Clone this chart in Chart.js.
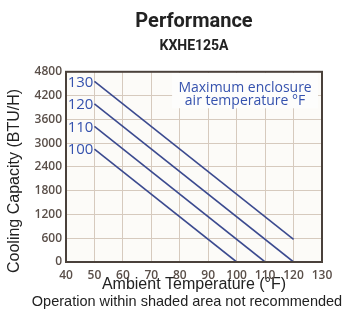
<!DOCTYPE html>
<html>
<head>
<meta charset="utf-8">
<script src="https://cdn.jsdelivr.net/npm/chart.js@4/dist/chart.umd.min.js"></script>
<style>
  html, body { margin: 0; padding: 0; background: #ffffff; }
  #wrap { width: 346px; height: 324px; }
</style>
</head>
<body>
<div id="wrap"><canvas id="perf-chart" width="346" height="324"></canvas></div>
<script>
// Cooling capacity vs ambient temperature, one line per max enclosure temp
const enclosureTemps = ["100", "110", "120", "130"];
const ambientStart = [50, 50, 50, 50];
const ambientEnd = [100, 110, 120, 120];
const capacityStart = [2850, 3420, 3990, 4560];
const capacityEnd = [0, 0, 0, 570];

const xTicks = [40, 50, 60, 70, 80, 90, 100, 110, 120, 130];
const yTicks = [0, 600, 1200, 1800, 2400, 3000, 3600, 4200, 4800];

const noteLines = ["Maximum enclosure", "air temperature °F"];
// note box corners in axis units
const noteBox = { x0: 77.3, x1: 128.6, y0: 3880, y1: 4770 };

const colors = {
  line: "#3b4a8f",
  label: "#3552ae",
  grid: "#d6cabe",
  border: "#4a413b",
  tick: "#5a4f49",
  text: "#222222",
};

const tickFont = { family: "'Open Sans', 'DejaVu Sans', sans-serif", size: 12, weight: "600" };
const titleFamily = "Roboto, 'Liberation Sans', sans-serif";
const axisFont = "16px 'Liberation Sans', Arial, sans-serif";

const datasets = enclosureTemps.map((t, i) => ({
  label: t,
  data: [
    { x: ambientStart[i], y: capacityStart[i] },
    { x: ambientEnd[i], y: capacityEnd[i] },
  ],
  borderColor: colors.line,
  borderWidth: 1.6,
  pointRadius: 0,
  fill: false,
  tension: 0,
}));

// Plot background, note box, series labels, frame and captions
const decorations = {
  id: "decorations",
  beforeDraw(chart) {
    const { ctx, chartArea } = chart;
    ctx.save();
    ctx.fillStyle = "#fcfbf8";
    ctx.fillRect(chartArea.left, chartArea.top, chartArea.right - chartArea.left, chartArea.bottom - chartArea.top);
    ctx.restore();
  },
  beforeDatasetsDraw(chart) {
    const { ctx, scales } = chart;
    const x = scales.x, y = scales.y;
    const left = x.getPixelForValue(noteBox.x0);
    const right = x.getPixelForValue(noteBox.x1);
    const top = y.getPixelForValue(noteBox.y1);
    const bottom = y.getPixelForValue(noteBox.y0);
    ctx.save();
    ctx.fillStyle = "#fdfdfc";
    ctx.fillRect(left, top, right - left, bottom - top);
    ctx.fillStyle = colors.label;
    ctx.font = "14px 'Open Sans', sans-serif";
    ctx.textAlign = "center";
    ctx.textBaseline = "alphabetic";
    const cx = (left + right) / 2;
    ctx.fillText(noteLines[0], cx, top + 19);
    ctx.fillText(noteLines[1], cx, top + 32);
    ctx.restore();
  },
  afterDatasetsDraw(chart) {
    const { ctx } = chart;
    ctx.save();
    ctx.fillStyle = colors.label;
    ctx.font = "15px 'Open Sans', sans-serif";
    ctx.textAlign = "right";
    ctx.textBaseline = "middle";
    chart.data.datasets.forEach((ds, i) => {
      const pt = chart.getDatasetMeta(i).data[0];
      ctx.fillText(ds.label, pt.x - 1, pt.y + 1);
    });
    ctx.restore();
  },
  afterDraw(chart) {
    const { ctx, chartArea } = chart;
    ctx.save();
    ctx.strokeStyle = colors.border;
    ctx.lineWidth = 2;
    ctx.strokeRect(chartArea.left, chartArea.top, chartArea.right - chartArea.left, chartArea.bottom - chartArea.top);
    ctx.fillStyle = colors.text;
    ctx.textBaseline = "middle";
    // y axis caption starts just below the frame's bottom edge
    ctx.font = axisFont;
    ctx.save();
    ctx.translate(15, chartArea.bottom + 11);
    ctx.rotate(-Math.PI / 2);
    ctx.textAlign = "left";
    ctx.fillText("Cooling Capacity (BTU/H)", 0, 0);
    ctx.restore();
    ctx.textAlign = "center";
    ctx.font = "14.5px 'Liberation Sans', Arial, sans-serif";
    ctx.fillText("Operation within shaded area not recommended", 187, 302);
    ctx.restore();
  },
};

const ctx = document.getElementById("perf-chart").getContext("2d");
new Chart(ctx, {
  type: "line",
  data: { datasets: datasets },
  options: {
    responsive: false,
    animation: false,
    layout: { padding: { left: 0, right: 24, top: 0, bottom: 0 } },
    plugins: {
      legend: { display: false },
      tooltip: { enabled: false },
      title: {
        display: true,
        text: "Performance",
        fullSize: false,
        color: colors.text,
        font: { family: titleFamily, size: 20, weight: "bold" },
        padding: { top: 10, bottom: 4 },
      },
      subtitle: {
        display: true,
        text: "KXHE125A",
        fullSize: false,
        color: colors.text,
        font: { family: titleFamily, size: 14, weight: "bold" },
        padding: { top: 0, bottom: 17 },
      },
    },
    scales: {
      x: {
        type: "linear",
        min: 40,
        max: 130,
        afterFit(scale) { scale.height = 62; },
        afterBuildTicks(scale) { scale.ticks = xTicks.map((v) => ({ value: v })); },
        grid: { color: colors.grid, drawTicks: false, lineWidth: 1 },
        border: { display: false },
        ticks: { color: colors.tick, font: tickFont, padding: 6, maxRotation: 0, callback: (v) => String(v) },
        title: {
          display: true,
          text: "Ambient Temperature (°F)",
          color: colors.text,
          font: { family: "'Liberation Sans', Arial, sans-serif", size: 16 },
          padding: { top: 0, bottom: 30 },
        },
      },
      y: {
        min: 0,
        max: 4800,
        afterFit(scale) { scale.width = 66; },
        afterBuildTicks(scale) { scale.ticks = yTicks.map((v) => ({ value: v })); },
        grid: { color: colors.grid, drawTicks: false, lineWidth: 1 },
        border: { display: false },
        ticks: { color: colors.tick, font: tickFont, padding: 4, callback: (v) => String(v) },
      },
    },
  },
  plugins: [decorations],
});
</script>
</body>
</html>
